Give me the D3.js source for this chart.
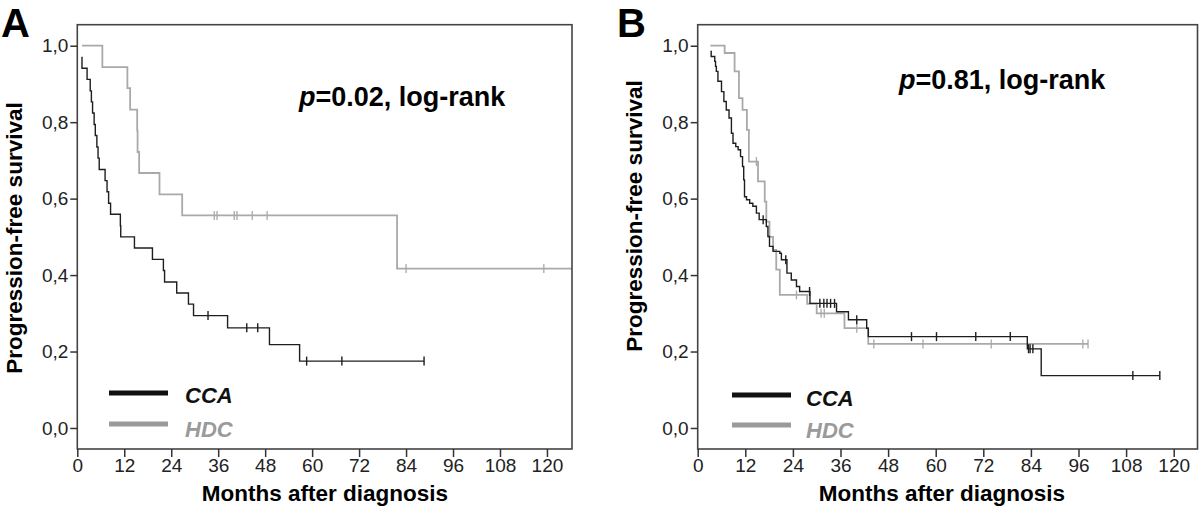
<!DOCTYPE html>
<html>
<head>
<meta charset="utf-8">
<script src="https://cdn.jsdelivr.net/npm/d3@7"></script>
<style>
  html, body { margin: 0; padding: 0; background: #fff; }
  svg { display: block; }
  .tick text { font-family: "Liberation Sans Narrow", "Liberation Sans", Arial, sans-serif; }
</style>
</head>
<body>
<svg id="chart" width="1200" height="508"></svg>
<script>
// ---------------- DATA ----------------
const monthTicks = [0, 12, 24, 36, 48, 60, 72, 84, 96, 108, 120];
const survTicks = [0, 0.2, 0.4, 0.6, 0.8, 1.0];
const survTickLabels = ["0,0", "0,2", "0,4", "0,6", "0,8", "1,0"];
const legendLabels = ["CCA", "HDC"];
const panelLabels = ["A", "B"];
const pValueLabels = ["0.02", "0.81"];
const xTitle = "Months after diagnosis";
const yTitle = "Progression-free survival";

// Panel A - CCA (first element = start of curve)
const aCcaTime = [1.2, 1.2, 2.5, 3.3, 3.6, 3.9, 4.3, 4.6, 5.0, 5.3, 5.6, 7.1, 7.6, 8.0, 8.5, 11.0, 11.1, 14.6, 19.2, 22.0, 22.3, 25.4, 28.4, 29.7, 38.4, 49.1, 56.8];
const aCcaSurv = [0.971, 0.941, 0.912, 0.882, 0.853, 0.824, 0.794, 0.765, 0.735, 0.706, 0.676, 0.647, 0.618, 0.588, 0.559, 0.529, 0.500, 0.471, 0.441, 0.412, 0.382, 0.353, 0.324, 0.294, 0.262, 0.218, 0.175];
const aCcaCensor = [33.4, 43.3, 46.1, 58.6, 67.6, 88.6];
const aCcaEnd = 88.6;

// Panel A - HDC
const aHdcTime = [1.2, 6.4, 12.8, 13.5, 15.3, 15.4, 15.8, 21.0, 26.8, 81.7];
const aHdcSurv = [1.0, 0.944, 0.889, 0.833, 0.778, 0.722, 0.667, 0.611, 0.556, 0.417];
const aHdcCensor = [35.0, 35.7, 40.1, 40.8, 44.7, 48.5, 84.0, 119.2];
const aHdcEnd = 128;

// Panel B - CCA
const bCcaTime = [3.2, 3.4, 4.3, 4.5, 4.7, 5.1, 6.0, 6.6, 7.2, 7.9, 8.5, 8.9, 9.6, 10.2, 10.8, 11.3, 11.6, 11.8, 12.3, 13.1, 13.9, 14.8, 15.5, 17.3, 17.7, 18.1, 19.0, 20.7, 21.1, 22.5, 23.6, 24.9, 25.7, 28.3, 35.0, 38.0, 42.6, 43.0, 83.1, 86.6];
const bCcaSurv = [0.985, 0.972, 0.959, 0.946, 0.933, 0.907, 0.880, 0.854, 0.832, 0.811, 0.771, 0.745, 0.736, 0.728, 0.710, 0.684, 0.649, 0.605, 0.597, 0.588, 0.580, 0.562, 0.545, 0.527, 0.501, 0.475, 0.462, 0.457, 0.440, 0.405, 0.387, 0.370, 0.357, 0.326, 0.304, 0.283, 0.261, 0.239, 0.207, 0.137];
const bCcaCensor = [16.5, 22.2, 28.2, 30.8, 31.8, 32.6, 33.5, 34.5, 40.1, 53.9, 60.2, 70.1, 78.8, 83.4, 83.8, 84.5, 109.7, 116.5];
const bCcaEnd = 116.5;

// Panel B - HDC
const bHdcTime = [3.2, 6.8, 9.3, 10.4, 11.3, 12.4, 12.9, 15.2, 16.9, 17.3, 18.1, 19.0, 19.8, 20.7, 27.6, 30.0, 37.0, 43.0];
const bHdcSurv = [1.0, 0.981, 0.933, 0.863, 0.832, 0.780, 0.697, 0.645, 0.592, 0.540, 0.500, 0.466, 0.414, 0.348, 0.325, 0.300, 0.261, 0.220];
const bHdcCensor = [14.8, 24.9, 31.1, 31.9, 40.1, 44.4, 56.8, 74.0, 97.1, 98.4];
const bHdcEnd = 98.4;

// ---------------- LAYOUT / STYLE ----------------
const seriesColor = ["#1e1e1e", "#a9a9a9"];
const legendColor = ["#111111", "#9a9a9a"];

const panels = [
  {
    left: 77.3, right: 572, top: 24.7, bottom: 449, xMax: 126.4,
    series: [
      { time: aCcaTime, surv: aCcaSurv, cens: aCcaCensor, end: aCcaEnd },
      { time: aHdcTime, surv: aHdcSurv, cens: aHdcCensor, end: aHdcEnd }
    ],
    letterX: 1, letterY: 37, yTitleX: 22, yTitleY: 238, xTitleX: 325,
    pX: 299, pY: 106,
    legX1: 109, legX2: 168, legY: [393, 424], legTextX: 185, legTextY: [403, 437]
  },
  {
    left: 697.7, right: 1197.5, top: 24.7, bottom: 449, xMax: 126,
    series: [
      { time: bCcaTime, surv: bCcaSurv, cens: bCcaCensor, end: bCcaEnd },
      { time: bHdcTime, surv: bHdcSurv, cens: bHdcCensor, end: bHdcEnd }
    ],
    letterX: 617, letterY: 37, yTitleX: 642, yTitleY: 216, xTitleX: 942,
    pX: 899, pY: 89,
    legX1: 732, legX2: 791, legY: [395, 425], legTextX: 806, legTextY: [406, 438]
  }
];

const svg = d3.select("#chart");
svg.append("rect").attr("width", 1200).attr("height", 508).attr("fill", "#fff");

function survAt(time, surv, t) {
  let s = surv[0];
  for (let i = 1; i < time.length; i++) {
    if (time[i] <= t) s = surv[i]; else break;
  }
  return s;
}

panels.forEach((p, pi) => {
  const x = d3.scaleLinear().domain([0, p.xMax]).range([p.left, p.right]);
  const y = d3.scaleLinear().domain([-0.055, 1.055]).range([p.bottom, p.top]);

  const g = svg.append("g");
  const clipId = "clip" + pi;
  svg.append("clipPath").attr("id", clipId)
    .append("rect").attr("x", p.left).attr("y", p.top)
    .attr("width", p.right - p.left).attr("height", p.bottom - p.top);

  const curveG = g.append("g").attr("clip-path", `url(#${clipId})`);
  const line = d3.line().x(d => x(d[0])).y(d => y(d[1])).curve(d3.curveStepAfter);

  [1, 0].forEach(si => {
    const s = p.series[si];
    const pts = s.time.map((t, i) => [t, s.surv[i]]);
    pts.push([s.end, s.surv[s.surv.length - 1]]);
    curveG.append("path")
      .attr("d", line(pts))
      .attr("fill", "none")
      .attr("stroke", seriesColor[si])
      .attr("stroke-width", si === 0 ? 1.4 : 1.8);
    curveG.selectAll(null)
      .data(s.cens)
      .enter().append("line")
      .attr("x1", d => x(d)).attr("x2", d => x(d))
      .attr("y1", d => y(survAt(s.time, s.surv, d)) - 4.5)
      .attr("y2", d => y(survAt(s.time, s.surv, d)) + 4.5)
      .attr("stroke", seriesColor[si])
      .attr("stroke-width", si === 0 ? 1.4 : 1.3);
  });

  g.append("rect")
    .attr("x", p.left).attr("y", p.top)
    .attr("width", p.right - p.left).attr("height", p.bottom - p.top)
    .attr("fill", "none").attr("stroke", "#444").attr("stroke-width", 1.6);

  const xAxis = d3.axisBottom(x).tickValues(monthTicks).tickSize(8).tickPadding(2).tickFormat(d3.format("d"));
  const gx = g.append("g").attr("transform", `translate(0,${p.bottom})`).call(xAxis);
  gx.select(".domain").remove();
  gx.selectAll(".tick line").attr("stroke", "#333").attr("stroke-width", 1.5);
  gx.selectAll(".tick text").attr("font-size", 19).attr("fill", "#222");

  const yAxis = d3.axisLeft(y).tickValues(survTicks).tickSize(7).tickPadding(2)
    .tickFormat((d, i) => survTickLabels[i]);
  const gy = g.append("g").attr("transform", `translate(${p.left},0)`).call(yAxis);
  gy.select(".domain").remove();
  gy.selectAll(".tick line").attr("stroke", "#333").attr("stroke-width", 1.5);
  gy.selectAll(".tick text").attr("font-size", 19).attr("fill", "#222");

  g.append("text")
    .attr("x", p.xTitleX).attr("y", 501)
    .attr("text-anchor", "middle")
    .attr("font-family", "Liberation Sans, Arial, sans-serif")
    .attr("font-weight", "bold").attr("font-size", 22.5).attr("fill", "#000")
    .text(xTitle);
  g.append("text")
    .attr("transform", `translate(${p.yTitleX},${p.yTitleY}) rotate(-90)`)
    .attr("text-anchor", "middle")
    .attr("font-family", "Liberation Sans, Arial, sans-serif")
    .attr("font-weight", "bold").attr("font-size", 22.5).attr("fill", "#000")
    .text(yTitle);

  g.append("text")
    .attr("x", p.letterX).attr("y", p.letterY)
    .attr("font-family", "Liberation Sans, Arial, sans-serif")
    .attr("font-weight", "bold").attr("font-size", 40).attr("fill", "#000")
    .text(panelLabels[pi]);

  const pt = g.append("text")
    .attr("x", p.pX).attr("y", p.pY)
    .attr("font-family", "Liberation Sans, Arial, sans-serif")
    .attr("font-weight", "bold").attr("font-size", 27).attr("fill", "#000");
  pt.append("tspan").attr("font-style", "italic").text("p");
  pt.append("tspan").text("=" + pValueLabels[pi] + ", log-rank");

  legendLabels.forEach((lab, li) => {
    g.append("line")
      .attr("x1", p.legX1).attr("x2", p.legX2)
      .attr("y1", p.legY[li]).attr("y2", p.legY[li])
      .attr("stroke", legendColor[li]).attr("stroke-width", 5);
    g.append("text")
      .attr("x", p.legTextX).attr("y", p.legTextY[li])
      .attr("font-family", "Liberation Sans, Arial, sans-serif")
      .attr("font-weight", "bold").attr("font-style", "italic")
      .attr("font-size", 22).attr("fill", legendColor[li])
      .text(lab);
  });
});
</script>
</body>
</html>
